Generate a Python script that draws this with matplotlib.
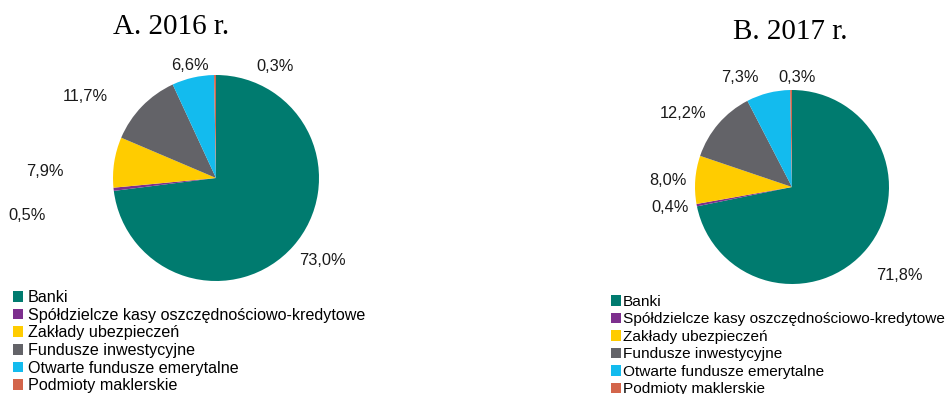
import matplotlib
matplotlib.use("Agg")
import matplotlib.pyplot as plt
from matplotlib.patches import Patch

categories = ["Banki", "Spółdzielcze kasy oszczędnościowo-kredytowe", "Zakłady ubezpieczeń",
              "Fundusze inwestycyjne", "Otwarte fundusze emerytalne", "Podmioty maklerskie"]
values_2016 = [73.0, 0.5, 7.9, 11.7, 6.6, 0.3]
values_2017 = [71.8, 0.4, 8.0, 12.2, 7.3, 0.3]
titles = ["A. 2016 r.", "B. 2017 r."]

colors = ["#007B6F", "#7D2F8E", "#FFCC00", "#636368", "#13BBEE", "#D3654B"]

# label offsets in radius units (layout)
lab_A = [(1.03, -0.80), (-1.83, -0.36), (-1.66, 0.06), (-1.27, 0.79), (-0.25, 1.09), (0.57, 1.08)]
lab_B = [(1.11, -0.91), (-1.26, -0.21), (-1.28, 0.07), (-1.12, 0.76), (-0.54, 1.13), (0.05, 1.13)]

W, H = 951, 394
fig = plt.figure(figsize=(W / 100, H / 100), dpi=100)
fig.patch.set_facecolor("white")

def fmt(v):
    return f"{v:.1f}%".replace(".", ",")

def draw(cx, cy, r, vals, labs, title, tx, ty, legx, legy, lfs, lsp, ltp):
    ax = fig.add_axes([(cx - r) / W, (H - cy - r) / H, 2 * r / W, 2 * r / H])
    ax.pie(vals, colors=colors, startangle=90, counterclock=False,
           wedgeprops=dict(linewidth=0))
    ax.set_xlim(-1, 1)
    ax.set_ylim(-1, 1)
    ax.set_aspect("equal")
    ax.axis("off")
    for v, (lx, ly) in zip(vals, labs):
        ax.text(lx, ly, fmt(v), ha="center", va="center", fontsize=11.8,
                family="Liberation Sans", color="#1a1a1a", clip_on=False)
    fig.text(tx / W, 1 - ty / H, title, ha="center", va="center",
             fontsize=21, family="Liberation Serif")
    handles = [Patch(facecolor=c, edgecolor="none") for c in colors]
    fig.legend(handles, categories, loc="upper left",
               bbox_to_anchor=(legx / W, 1 - legy / H), frameon=False,
               prop=dict(family="Liberation Sans", size=lfs),
               handlelength=0.65, handleheight=0.65, handletextpad=ltp,
               labelspacing=lsp, borderpad=0, borderaxespad=0)

draw(216, 178, 103, values_2016, lab_A, titles[0], 171, 27, 13, 290, 11.6, 0.166, 0.25)
draw(792, 187, 97, values_2017, lab_B, titles[1], 790, 32, 611, 295, 11.1, 0.227, 0.12)

fig.savefig("out.png", dpi=100)
